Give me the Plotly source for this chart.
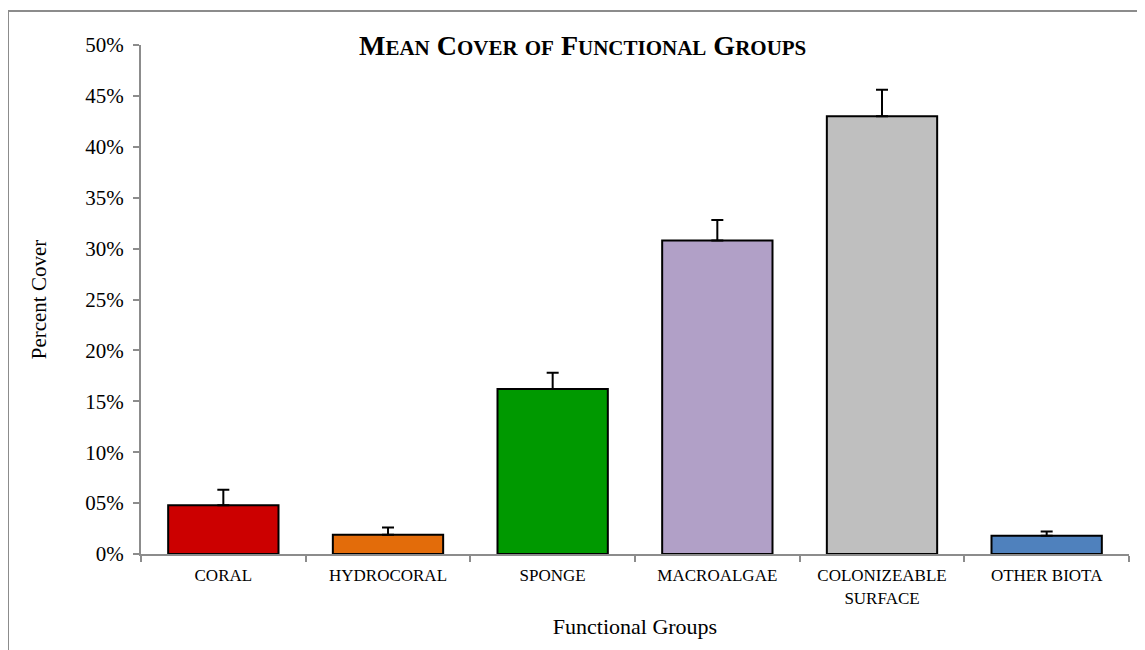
import plotly.graph_objects as go

# Mean percent cover per functional group
groups = ['CORAL', 'HYDROCORAL', 'SPONGE', 'MACROALGAE', 'COLONIZEABLE<br>SURFACE', 'OTHER BIOTA']
cover = [4.8, 1.9, 16.2, 30.8, 43.0, 1.8]
cover_err = [1.5, 0.7, 1.6, 2.0, 2.6, 0.4]
bar_colors = ['#cc0000', '#e36c0a', '#009900', '#b1a0c7', '#bfbfbf', '#4f81bd']

ytick_vals = [0, 5, 10, 15, 20, 25, 30, 35, 40, 45, 50]
ytick_text = ['0%', '05%', '10%', '15%', '20%', '25%', '30%', '35%', '40%', '45%', '50%']

serif = 'Liberation Serif, Times New Roman, serif'

# Page has an 8px body margin, so work in figure pixels = page pixels - 8
OFF = 8
W, H = 1145, 650
L, T = 141 - OFF, 45 - OFF
pw = 1129 - 141
ph = 554 - 45
R = W - L - pw
B = H - T - ph

def px_x(x):
	return (x - OFF - L) / pw

def px_y(y):
	return 1.0 - (y - OFF - T) / ph

fig = go.Figure()
fig.add_trace(go.Bar(
	x=groups, y=cover,
	marker=dict(color=bar_colors, line=dict(color='black', width=2)),
	width=0.67,
	error_y=dict(type='data', array=cover_err, arrayminus=[0]*len(cover_err),
		symmetric=False, color='black', thickness=2, width=6),
	showlegend=False,
))

# Small-caps style title
def smallcaps(text, small=21):
	out = []
	for word in text.split(' '):
		if word.islower():
			out.append("<span style='font-size:%dpx'>%s</span>" % (small, word.upper()))
		else:
			out.append(word[0] + "<span style='font-size:%dpx'>%s</span>" % (small, word[1:].upper()))
	return ' '.join(out)

fig.add_annotation(text='<b>' + smallcaps('Mean Cover of Functional Groups') + '</b>',
	xref='paper', yref='paper', x=px_x(582), y=px_y(46),
	xanchor='center', yanchor='middle', showarrow=False,
	font=dict(family=serif, size=28, color='black'))

# Outer chart frame
fig.add_shape(type='rect', xref='paper', yref='paper',
	x0=px_x(8), x1=1.2, y0=-0.3, y1=px_y(11),
	line=dict(color='#8c8c8c', width=2), fillcolor='rgba(0,0,0,0)', layer='below')

fig.update_layout(
	width=W, height=H,
	margin=dict(l=L, r=R, t=T, b=B),
	paper_bgcolor='white', plot_bgcolor='white',
	font=dict(family=serif, color='black'),
	bargap=0.33,
)
fig.update_xaxes(
	showline=True, linecolor='#8c8c8c', linewidth=2,
	ticks='outside', tickson='boundaries', ticklen=6, tickcolor='#8c8c8c', tickwidth=2,
	tickfont=dict(family=serif, size=17), ticklabelstandoff=5,
	title=dict(text='Functional Groups', font=dict(family=serif, size=22), standoff=12),
	showgrid=False,
)
fig.update_yaxes(
	range=[0, 50], tickvals=ytick_vals, ticktext=ytick_text,
	showline=True, linecolor='#8c8c8c', linewidth=2,
	ticks='outside', ticklen=6, tickcolor='#8c8c8c', tickwidth=2,
	tickfont=dict(family=serif, size=21), ticklabelstandoff=5,
	title=dict(text='Percent Cover', font=dict(family=serif, size=21), standoff=33),
	showgrid=False, zeroline=False,
)

fig.write_html("out.html")
